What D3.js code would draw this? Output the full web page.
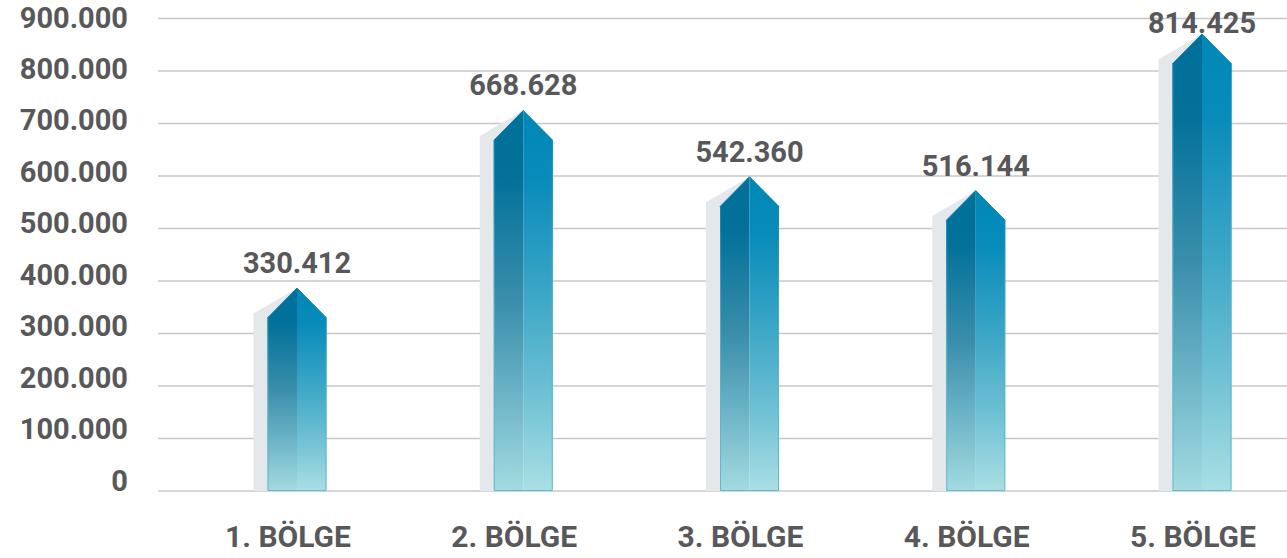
<!DOCTYPE html>
<html>
<head>
<meta charset="utf-8">
<script src="https://cdn.jsdelivr.net/npm/d3@7/dist/d3.min.js"></script>
<style>
  body { margin: 0; background: #fff; }
  .grid line { stroke: #c8c8c8; stroke-width: 1.5; }
  text { font-family: Roboto, "Noto Sans", sans-serif; font-weight: bold; fill: #58585a; }
</style>
</head>
<body>
<div id="chart"></div>
<script>
// data
var regions = ["1. BÖLGE", "2. BÖLGE", "3. BÖLGE", "4. BÖLGE", "5. BÖLGE"];
var values = [330412, 668628, 542360, 516144, 814425];
var yTicks = [0, 100000, 200000, 300000, 400000, 500000, 600000, 700000, 800000, 900000];

var width = 1287,
    height = 558;

var tr = d3.formatLocale({ decimal: ",", thousands: ".", grouping: [3], currency: ["", ""] });
var fmt = tr.format(",d");

var svg = d3.select("#chart").append("svg")
    .attr("width", width)
    .attr("height", height);

var y = d3.scaleLinear()
    .domain([0, 900000])
    .range([491, 18.5]);

// tick labels sit on a slightly tighter spacing than the grid lines
var yLabel = d3.scaleLinear()
    .domain([0, 900000])
    .range([490.5, 27.5]);

var x = d3.scalePoint()
    .domain(regions)
    .range([297, 1202]);

var barW = 59,
    shadowW = 14;

// gradients for the two halves of the arrow
var defs = svg.append("defs");
function grad(id, stops) {
  var g = defs.append("linearGradient").attr("id", id)
      .attr("x1", 0).attr("y1", 0).attr("x2", 0).attr("y2", 1);
  stops.forEach(function(s) {
    g.append("stop").attr("offset", s[0]).attr("stop-color", s[1]);
  });
}
grad("gLeft", [[0, "#00709a"], [0.18, "#03719a"], [0.5, "#3a8eab"], [0.75, "#6cb4c7"], [1, "#a3dbe0"]]);
grad("gRight", [[0, "#0088b7"], [0.18, "#088bba"], [0.5, "#3fa8c7"], [0.75, "#70c1d4"], [1, "#a9dfe4"]]);
grad("gEdge", [[0, "#0080ad"], [0.5, "#4fb0c9"], [1, "#62bcd0"]]);

// grid
svg.append("g").attr("class", "grid")
  .selectAll("line")
  .data(yTicks)
  .enter().append("line")
    .attr("x1", 158).attr("x2", width)
    .attr("y1", function(d) { return y(d); })
    .attr("y2", function(d) { return y(d); });

// y labels
svg.append("g")
  .selectAll("text")
  .data(yTicks)
  .enter().append("text")
    .attr("x", 128)
    .attr("y", function(d) { return yLabel(d); })
    .attr("text-anchor", "end")
    .style("font-size", "29px")
    .text(function(d) { return fmt(d); });

var line = d3.line();

var bars = svg.append("g")
  .selectAll("g")
  .data(regions.map(function(r, i) { return { region: r, value: values[i] }; }))
  .enter().append("g");

function geom(d) {
  var cx = x(d.region), x0 = cx - barW / 2, x1 = cx + barW / 2;
  var sh = y(d.value), apex = sh - barW / 2, base = y(0);
  return { cx: cx, x0: x0, x1: x1, sh: sh, apex: apex, base: base };
}

// shadow
bars.append("path")
  .attr("fill", "#e5e8eb")
  .attr("d", function(d) {
    var g = geom(d);
    return line([[g.x0 - shadowW, g.base], [g.x0 - shadowW, g.sh - 4], [g.cx, g.apex], [g.cx, g.base]]) + "Z";
  });

// left half
bars.append("path")
  .attr("fill", "url(#gLeft)")
  .attr("d", function(d) {
    var g = geom(d);
    return line([[g.x0, g.base], [g.x0, g.sh], [g.cx, g.apex], [g.cx, g.base]]) + "Z";
  });

// right half
bars.append("path")
  .attr("fill", "url(#gRight)")
  .attr("d", function(d) {
    var g = geom(d);
    return line([[g.cx, g.base], [g.cx, g.apex], [g.x1, g.sh], [g.x1, g.base]]) + "Z";
  });

// thin edge
bars.append("path")
  .attr("fill", "none")
  .attr("stroke", "url(#gEdge)")
  .attr("stroke-width", 1)
  .attr("d", function(d) {
    var g = geom(d);
    return line([[g.x0 + 0.5, g.base - 0.5], [g.x0 + 0.5, g.sh], [g.cx, g.apex], [g.x1 - 0.5, g.sh], [g.x1 - 0.5, g.base - 0.5]]) + "Z";
  });

// value labels, kept inside the top edge
bars.append("text")
  .attr("x", function(d) { return geom(d).cx; })
  .attr("y", function(d) { return Math.max(geom(d).apex - 15, 33); })
  .attr("text-anchor", "middle")
  .style("font-size", "29px")
  .text(function(d) { return fmt(d.value); });

// category labels
svg.append("g")
  .selectAll("text")
  .data(regions)
  .enter().append("text")
    .attr("x", function(d) { return x(d) - 9; })
    .attr("y", 547)
    .attr("text-anchor", "middle")
    .style("font-size", "30px")
    .text(function(d) { return d; });
</script>
</body>
</html>
